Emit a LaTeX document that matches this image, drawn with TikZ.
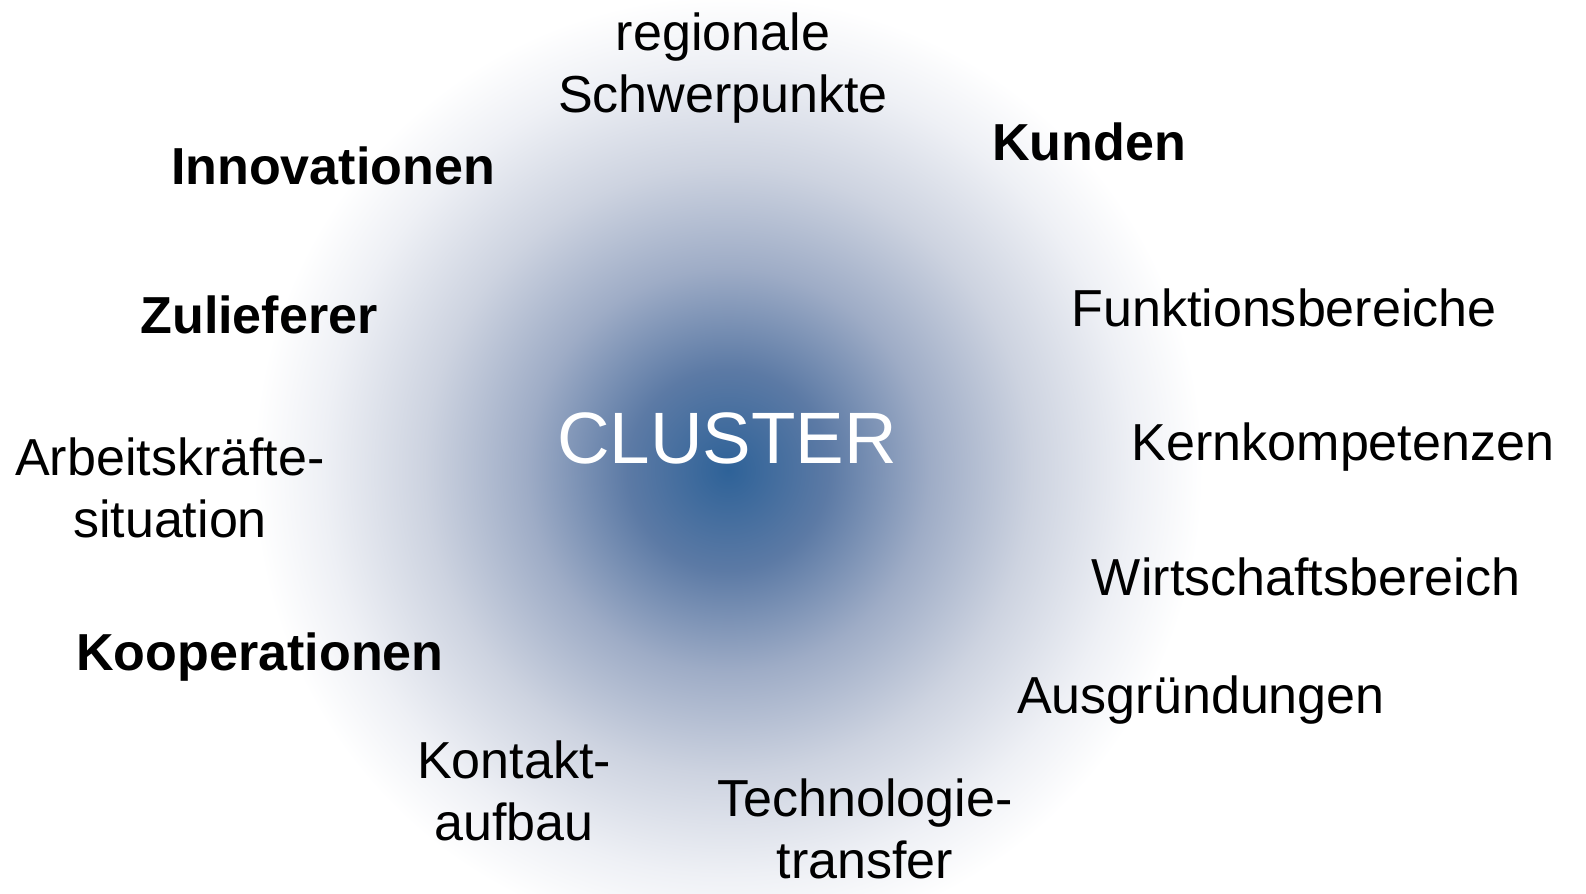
\documentclass[tikz,border=0pt]{standalone}
\usepackage{fontspec}
\setmainfont{Liberation Sans}
\definecolor{cl0}{RGB}{46,98,152}
\definecolor{cl1}{RGB}{92,122,165}
\definecolor{cl2}{RGB}{158,172,198}
\definecolor{cl3}{RGB}{205,211,224}
\definecolor{cl4}{RGB}{238,240,245}
\pgfdeclareradialshading{clustershade}{\pgfpoint{0bp}{0bp}}{color(0bp)=(cl0); color(5.3bp)=(cl1); color(10.6bp)=(cl2); color(16bp)=(cl3); color(21.3bp)=(cl4); color(25bp)=(white); color(50bp)=(white)}
\begin{document}
\begin{tikzpicture}[x=0.01cm,y=-0.01cm,
	lbl/.style={inner sep=0pt,anchor=base,align=center,font=\fontsize{14.8}{17.6}\selectfont},
	bold/.style={lbl,font=\fontsize{14.8}{17.6}\selectfont\bfseries}]
	\useasboundingbox (0,0) rectangle (1586,893);
	\shade[shading=clustershade] (728,470) circle (475);
	\node[inner sep=0pt,anchor=base,text=white,font=\fontsize{20.7}{24}\selectfont] (cl) at (727,463) {CLUSTER};
	% zweizeilige Texte: base = letzte Zeile
	\node[lbl] (reg) at (723,112) {regionale\\Schwerpunkte};
	\node[bold] (kun) at (1089,160) {Kunden};
	\node[bold] (inn) at (333,184) {Innovationen};
	\node[bold] (zul) at (259,333) {Zulieferer};
	\node[lbl] (fkt) at (1284,326) {Funktionsbereiche};
	\node[lbl] (kern) at (1343,460) {Kernkompetenzen};
	\node[lbl] (arb) at (170,537) {Arbeitskr\"afte-\\situation};
	\node[lbl] (wirt) at (1306,595) {Wirtschaftsbereich};
	\node[bold] (koop) at (260,670) {Kooperationen};
	\node[lbl] (ausg) at (1201,713) {Ausgr\"undungen};
	\node[lbl] (kont) at (514,840) {Kontakt-\\aufbau};
	\node[lbl] (tech) at (865,878) {Technologie-\\transfer};
\end{tikzpicture}
\end{document}
